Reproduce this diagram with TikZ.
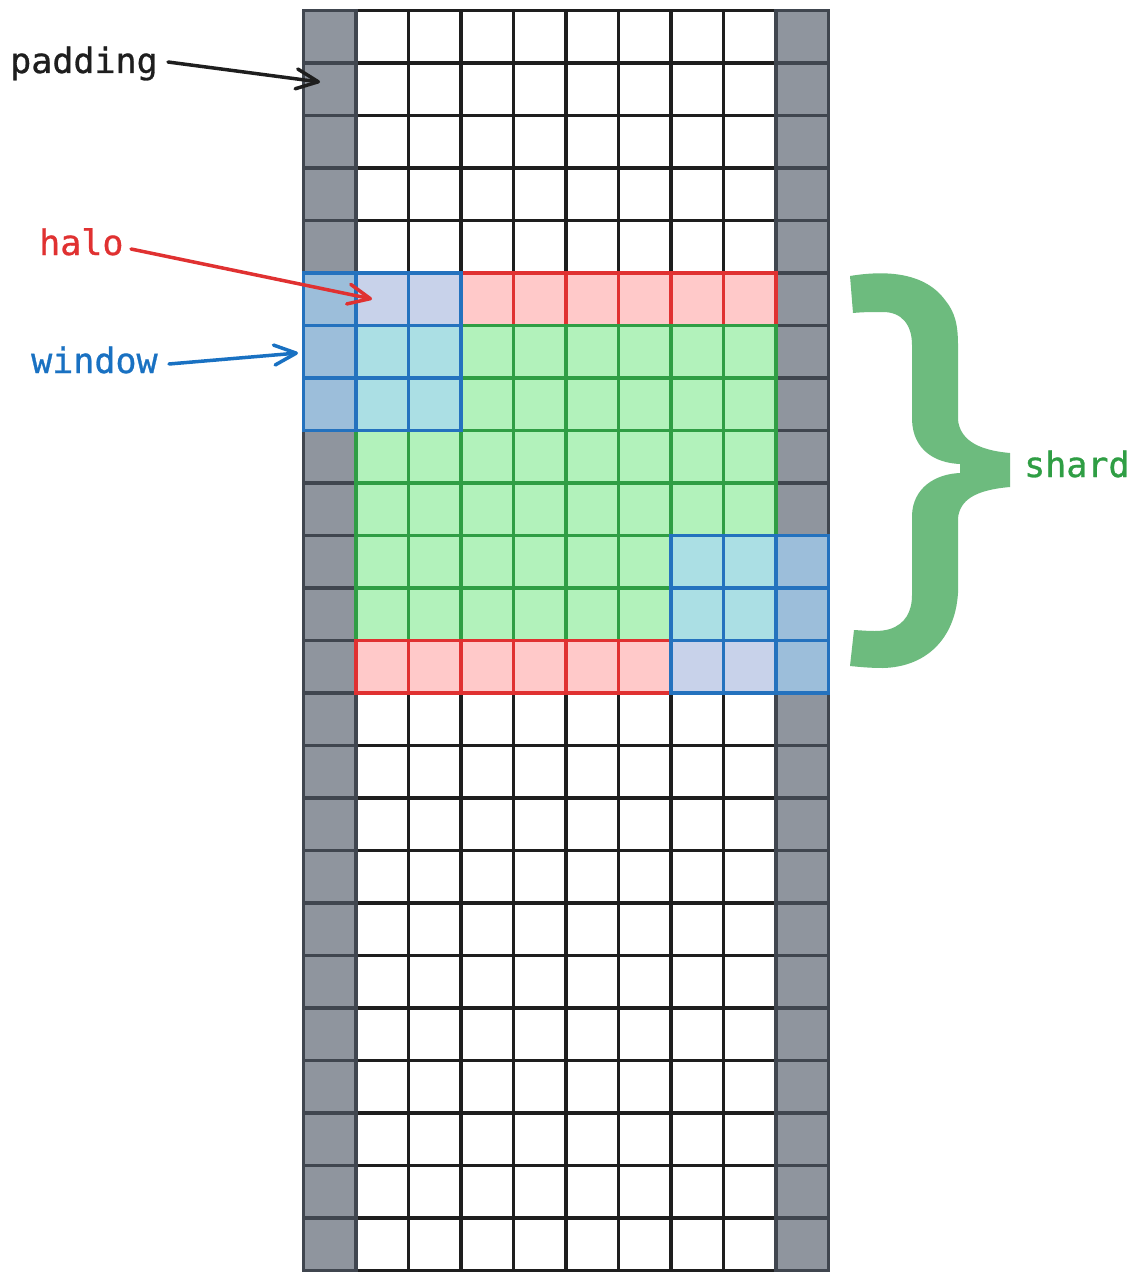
\documentclass[tikz,border=0pt]{standalone}
\usepackage{fontspec}
\newfontfamily\lblfont{DejaVu Sans Mono}[FakeBold=0.8]
\usetikzlibrary{arrows.meta}
\definecolor{inkk}{HTML}{1E1E1E}
\definecolor{padfill}{HTML}{8F959E}
\definecolor{padline}{HTML}{40464F}
\definecolor{pinkfill}{HTML}{FFC9C9}
\definecolor{redline}{HTML}{E03131}
\definecolor{greenfill}{HTML}{B2F2BB}
\definecolor{greenline}{HTML}{2F9E44}
\definecolor{lavfill}{HTML}{C8D2EA}
\definecolor{cyanfill}{HTML}{ABDFE4}
\definecolor{steelfill}{HTML}{9CBEDA}
\definecolor{blueline}{HTML}{2472BE}
\definecolor{bluetext}{HTML}{1971C2}
\definecolor{bracegreen}{HTML}{6DBB7E}
\newcommand\gcell[3]{\path[#1] ({303.5+#2*52.5},{10.5+#3*52.5}) rectangle ++(52.5,52.5);}
\begin{document}
\begin{tikzpicture}[x=1pt,y=-1pt,
  whitecell/.style={fill=white,draw=inkk,line width=3.5pt},
  padcell/.style={fill=padfill,draw=padline,line width=3.5pt},
  halocell/.style={fill=pinkfill,draw=redline,line width=3.5pt},
  shardcell/.style={fill=greenfill,draw=greenline,line width=3.5pt},
  winlav/.style={fill=lavfill,draw=blueline,line width=3.5pt},
  wincyan/.style={fill=cyanfill,draw=blueline,line width=3.5pt},
  winsteel/.style={fill=steelfill,draw=blueline,line width=3.5pt},
  lbl/.style={font=\lblfont\fontsize{35}{40}\selectfont,inner sep=0pt,anchor=base west},
  pointer/.style={line width=3.5pt,line cap=round,line join=round,-{Straight Barb[length=22pt,width=20pt,line cap=round,line join=round]}}]
\useasboundingbox (0,0) rectangle (1138,1281);
\fill[white] (0,0) rectangle (1138,1281);
% base grid
\foreach \r in {0,...,23}{
  \foreach \c in {1,...,8}{\gcell{whitecell}{\c}{\r}}
  \gcell{padcell}{0}{\r}
  \gcell{padcell}{9}{\r}
}
% halo (top)
\foreach \c in {3,...,8}{\gcell{halocell}{\c}{5}}
% shard
\foreach \r in {6,...,11}{\foreach \c in {1,...,8}{\gcell{shardcell}{\c}{\r}}}
% halo (bottom)
\foreach \c in {1,...,6}{\gcell{halocell}{\c}{12}}
% windows
\foreach \c in {1,2}{\gcell{winlav}{\c}{5}}
\foreach \r in {6,7}{\foreach \c in {1,2}{\gcell{wincyan}{\c}{\r}}}
\foreach \r in {5,6,7}{\gcell{winsteel}{0}{\r}}
\foreach \r in {10,11}{\foreach \c in {7,8}{\gcell{wincyan}{\c}{\r}}}
\foreach \c in {7,8}{\gcell{winlav}{\c}{12}}
\foreach \r in {10,11,12}{\gcell{winsteel}{9}{\r}}
% brace
\fill[bracegreen] (850,276) .. controls (880,271) and (923,270) .. (945,300)
  .. controls (955,312) and (958,325) .. (958,345) -- (958,420)
  .. controls (960,438) and (975,450) .. (1010,453) -- (1010,487)
  .. controls (975,490) and (960,500) .. (958,518) -- (958,593)
  .. controls (955,640) and (925,667) .. (883,668)
  .. controls (870,668) and (860,667) .. (850,666) -- (854,630)
  .. controls (870,631) and (880,632) .. (890,629)
  .. controls (905,624) and (912,612) .. (912,595) -- (912,515)
  .. controls (913,488) and (935,474) .. (960,473) -- (960,464)
  .. controls (935,463) and (913,450) .. (912,420) -- (912,345)
  .. controls (912,325) and (902,312) .. (883,312)
  .. controls (873,312) and (863,312) .. (853,313) -- cycle;
% labels
\node[lbl,text=inkk] (padlbl) at (10,73) {padding};
\node[lbl,text=redline] (halolbl) at (39,255) {halo};
\node[lbl,text=bluetext] (winlbl) at (31,373) {window};
\node[lbl,text=greenline] (shardlbl) at (1024,477) {shard};
\coordinate (padS) at (168,62);
\coordinate (padT) at (320,82);
\coordinate (haloS) at (131,249);
\coordinate (haloT) at (372,299);
\coordinate (winS) at (169,364);
\coordinate (winT) at (298,353);
\draw[pointer,draw=inkk] (padS) -- (padT);
\draw[pointer,draw=redline] (haloS) -- (haloT);
\draw[pointer,draw=bluetext] (winS) -- (winT);
\end{tikzpicture}
\end{document}
